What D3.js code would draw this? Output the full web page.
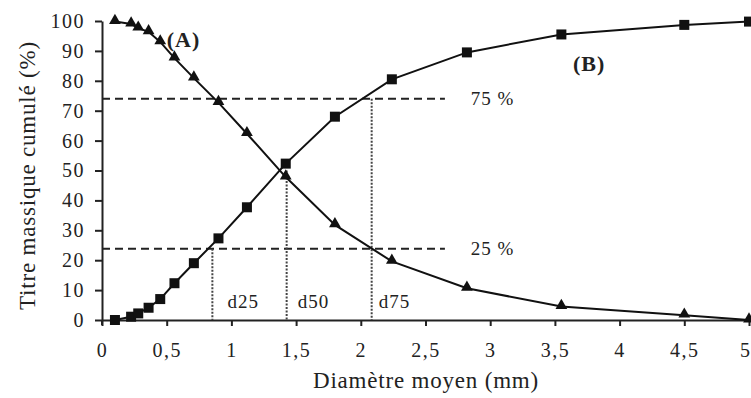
<!DOCTYPE html>
<html>
<head>
<meta charset="utf-8">
<script src="https://cdn.jsdelivr.net/npm/d3@7"></script>
<style>
  html, body { margin: 0; padding: 0; background: #fff; }
  svg { display: block; }
  text { font-family: 'Liberation Serif', 'Times New Roman', serif; fill: #222; }
</style>
</head>
<body>
<div id="chart"></div>
<script>
// ---- Data ----
const diam = [0.1, 0.225, 0.28, 0.36, 0.45, 0.56, 0.71, 0.9, 1.12, 1.42, 1.8, 2.24, 2.82, 3.55, 4.5, 5];
const curveA = [99.8, 99.0, 97.6, 96.4, 93.0, 87.6, 80.9, 72.7, 62.3, 47.8, 31.8, 19.6, 10.6, 4.5, 1.6, 0];
const curveB = [0, 1.1, 2.2, 4.1, 7.0, 12.3, 19.0, 27.3, 37.7, 52.3, 68.0, 80.5, 89.5, 95.5, 98.7, 99.8];
const xTicks = [0, 0.5, 1, 1.5, 2, 2.5, 3, 3.5, 4, 4.5, 5];
const yTicks = [0, 10, 20, 30, 40, 50, 60, 70, 80, 90, 100];
const levels = [{ label: '75 %', y: 74.0 }, { label: '25 %', y: 23.8 }];
const dMarks = [{ label: 'd25', x: 0.853, y: 23.8 }, { label: 'd50', x: 1.427, y: 50 }, { label: 'd75', x: 2.084, y: 74.0 }];

const W = 751, H = 398;
const m = { top: 21, right: 2, bottom: 78, left: 102 };
const w = W - m.left - m.right;
const h = H - m.top - m.bottom;

const svg = d3.select('#chart').append('svg').attr('width', W).attr('height', H);
const g = svg.append('g').attr('transform', `translate(${m.left},${m.top})`);

const x = d3.scaleLinear().domain([0, 5]).range([0, w]);
const y = d3.scaleLinear().domain([0, 100]).range([h, 0]);
const fmt = d => String(d).replace('.', ',');

// Axes
const xAxis = g.append('g').attr('transform', `translate(0,${h})`)
  .call(d3.axisBottom(x).tickValues(xTicks).tickFormat(fmt).tickSize(6).tickSizeOuter(0).tickPadding(17));
const yAxis = g.append('g')
  .call(d3.axisLeft(y).tickValues(yTicks).tickSize(7).tickSizeOuter(0).tickPadding(10));
[xAxis, yAxis].forEach(a => {
  a.select('.domain').attr('stroke', '#222').attr('stroke-width', 2);
  a.selectAll('.tick line').attr('stroke', '#222').attr('stroke-width', 2);
  a.selectAll('.tick text')
    .style('font-size', '20px')
    .style('letter-spacing', '1.5px')
    .style('font-family', "'Liberation Serif', serif")
    .attr('fill', '#333');
});
// keep the last x label inside the frame
xAxis.selectAll('.tick text').filter(d => d === 5).attr('text-anchor', 'end').attr('dx', 2);
// small extension of y axis below the x axis
g.append('line').attr('x1', 0).attr('x2', 0).attr('y1', h).attr('y2', h + 5)
  .attr('stroke', '#222').attr('stroke-width', 2);

// Reference levels (dashed)
levels.forEach(l => {
  g.append('line')
    .attr('x1', 0).attr('x2', x(2.65))
    .attr('y1', y(l.y)).attr('y2', y(l.y))
    .attr('stroke', '#222').attr('stroke-width', 2).attr('stroke-dasharray', '8,5');
  g.append('text')
    .attr('x', x(2.85)).attr('y', y(l.y) + 6)
    .style('font-size', '19px').style('letter-spacing', '1px').attr('fill', '#333')
    .text(l.label);
});

// d25 / d50 / d75 dotted verticals
const labelDx = [15, 11, 7];
dMarks.forEach((d, i) => {
  g.append('line')
    .attr('x1', x(d.x)).attr('x2', x(d.x))
    .attr('y1', y(d.y)).attr('y2', h)
    .attr('stroke', '#444').attr('stroke-width', 2).attr('stroke-dasharray', '2,1.5');
  g.append('text')
    .attr('x', x(d.x) + labelDx[i]).attr('y', h - 12)
    .style('font-size', '19px').style('letter-spacing', '1px').attr('fill', '#333')
    .text(d.label);
});

// Curves
const line = d3.line().x((d, i) => x(diam[i])).y(d => y(d));
[curveA, curveB].forEach(c => {
  g.append('path').datum(c).attr('d', line)
    .attr('fill', 'none').attr('stroke', '#111').attr('stroke-width', 2);
});

// Markers: triangles for A, squares for B
const tri = d3.symbol().type(d3.symbolTriangle).size(60);
g.selectAll('.mA').data(curveA).enter().append('path')
  .attr('d', tri)
  .attr('transform', (d, i) => `translate(${x(diam[i])},${y(d) - 1})`)
  .attr('fill', '#111');
g.selectAll('.mB').data(curveB).enter().append('rect')
  .attr('x', (d, i) => x(diam[i]) - 5).attr('y', d => y(d) - 5)
  .attr('width', 10).attr('height', 10)
  .attr('fill', '#111');

// Curve labels
g.append('text').attr('x', x(0.5)).attr('y', y(91.2))
  .style('font-size', '22px').style('font-weight', 'bold').style('letter-spacing', '1px')
  .attr('fill', '#222').text('(A)');
g.append('text').attr('x', x(3.64)).attr('y', y(83.3))
  .style('font-size', '22px').style('font-weight', 'bold').style('letter-spacing', '1px')
  .attr('fill', '#222').text('(B)');

// Axis titles
svg.append('text')
  .attr('x', 426).attr('y', 388)
  .attr('text-anchor', 'middle')
  .style('font-size', '23px').style('letter-spacing', '0.8px').attr('fill', '#333')
  .text('Diamètre moyen (mm)');
svg.append('text')
  .attr('transform', `translate(35,${m.top + h / 2 + 5}) rotate(-90)`)
  .attr('text-anchor', 'middle')
  .style('font-size', '23px').style('letter-spacing', '0.8px').attr('fill', '#333')
  .text('Titre massique cumulé (%)');
</script>
</body>
</html>
